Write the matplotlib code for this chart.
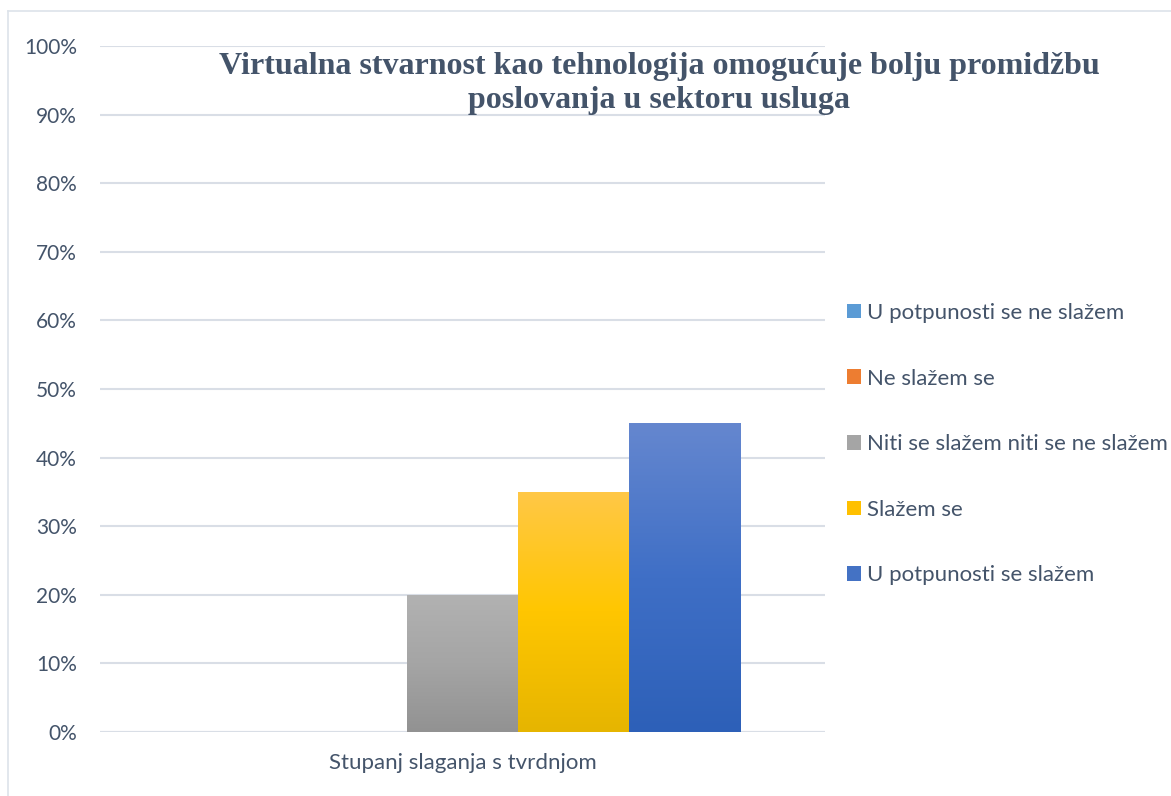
import matplotlib
matplotlib.use("Agg")
import matplotlib.pyplot as plt
import numpy as np
from matplotlib.colors import LinearSegmentedColormap
from matplotlib.patches import Patch
from matplotlib.lines import Line2D

# ---- data ----
category = "Stupanj slaganja s tvrdnjom"
series = ["U potpunosti se ne slažem", "Ne slažem se",
          "Niti se slažem niti se ne slažem", "Slažem se", "U potpunosti se slažem"]
values = [0.0, 0.0, 0.20, 0.35, 0.45]
base_colors = ["#5B9BD5", "#ED7D31", "#A5A5A5", "#FFC000", "#4472C4"]
grad_top = ["#7FB1E0", "#F29A5E", "#B2B2B2", "#FFC847", "#6587CF"]
grad_mid = ["#5B9BD5", "#ED7D31", "#A5A5A5", "#FFC600", "#3F6FC6"]
grad_bot = ["#4A86C0", "#D66A20", "#929292", "#E6B500", "#2D60B8"]
yticks = [0, 0.1, 0.2, 0.3, 0.4, 0.5, 0.6, 0.7, 0.8, 0.9, 1.0]
ytick_labels = ["0%", "10%", "20%", "30%", "40%", "50%", "60%", "70%", "80%", "90%", "100%"]
title = "Virtualna stvarnost kao tehnologija omogućuje bolju promidžbu\nposlovanja u sektoru usluga"

W, H = 1171, 796
fig = plt.figure(figsize=(W / 100, H / 100), dpi=100)
ax = fig.add_axes([100 / W, 1 - 732 / H, 725 / W, 686 / H])

text_color = "#44546A"
grid_color = "#D9DEE6"
sans = ["Lato", "DejaVu Sans"]

bw = 111.2 / 725
n = len(series)
for i, (v, ct, cm, cb) in enumerate(zip(values, grad_top, grad_mid, grad_bot)):
    x = (i - (n - 1) / 2) * bw
    bar = ax.bar(x, v, width=bw, color=base_colors[i], zorder=3, linewidth=0)[0]
    if v > 0:
        cmap = LinearSegmentedColormap.from_list("g%d" % i, [(0, cb), (0.5, cm), (1, ct)])
        grad = np.linspace(0, 1, 256).reshape(-1, 1)
        im = ax.imshow(grad, extent=[x - bw / 2, x + bw / 2, 0, v], origin="lower",
                       cmap=cmap, aspect="auto", zorder=4)
        im.set_clip_path(bar)

ax.set_xlim(-0.5, 0.5)
ax.set_ylim(0, 1.0)
ax.set_yticks(yticks)
ax.set_yticklabels(ytick_labels, fontsize=15, color=text_color, family=sans)
ax.set_xticks([0])
ax.set_xticklabels([category], fontsize=16, color=text_color, family=sans)
ax.tick_params(axis="both", length=0)
ax.tick_params(axis="y", pad=16.5)
ax.tick_params(axis="x", pad=15)
ax.grid(axis="y", color=grid_color, linewidth=1.5, zorder=0)
for s in ax.spines.values():
    s.set_visible(False)
ax.axhline(0, color=grid_color, linewidth=1.5, zorder=2)

fig.text(659 / W, 1 - 83.5 / H, title, ha="center", va="center", fontsize=23,
         fontweight="bold", color=text_color, family=["Liberation Serif", "DejaVu Serif"],
         linespacing=1.25)

handles = [Patch(facecolor=c, edgecolor="none") for c in base_colors]
leg = fig.legend(handles, series, loc="upper left", bbox_to_anchor=(847 / W, 1 - 303 / H),
                 frameon=False, handlelength=0.63, handleheight=0.63, handletextpad=0.25,
                 labelspacing=2.05, borderaxespad=0, borderpad=0,
                 prop={"family": sans, "size": 16})
for t in leg.get_texts():
    t.set_color(text_color)

# chart frame
fig.add_artist(Line2D([8 / W, 1], [1 - 11 / H, 1 - 11 / H], color="#DDE3EA", linewidth=1.2))
fig.add_artist(Line2D([8 / W, 8 / W], [0, 1 - 11 / H], color="#DDE3EA", linewidth=1.2))

fig.savefig("out.png", dpi=100)
